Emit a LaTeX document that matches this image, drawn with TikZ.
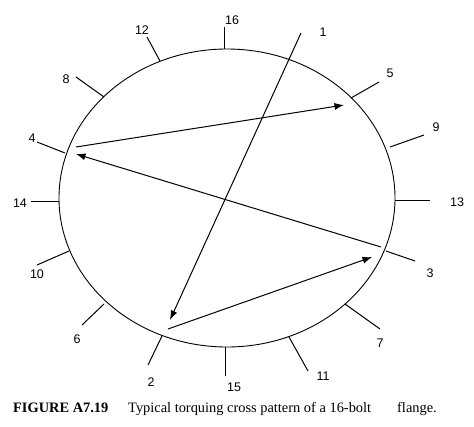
\documentclass[tikz,border=0pt]{standalone}
\usepackage{fontspec}
\setmainfont{Liberation Serif}
\newfontfamily\labfont{Liberation Sans}
\usetikzlibrary{arrows.meta}
\begin{document}
\begin{tikzpicture}[x=1pt,y=-1pt,
  tickline/.style={line width=1pt},
  arr/.style={line width=1pt,-{Latex[length=9.5pt,width=7pt]}},
  lab/.style={font=\labfont\fontsize{12.5}{14}\selectfont,inner sep=0pt},
  captext/.style={font=\fontsize{14.4}{16}\selectfont,inner sep=0pt,anchor=base west}]
\useasboundingbox (0,0) rectangle (474,426);
\draw[line width=0.9pt] (227,198) ellipse [x radius=168, y radius=149];
% tick end points (outer, inner)
\coordinate (o16) at (224,27);  \coordinate (i16) at (224,49);
\coordinate (o12) at (147,37);  \coordinate (i12) at (160,61);
\coordinate (o8)  at (76,77);   \coordinate (i8)  at (104,97);
\coordinate (o4)  at (37,142);  \coordinate (i4)  at (65,153);
\coordinate (o14) at (31,201);  \coordinate (i14) at (59,201);
\coordinate (o10) at (37,265);  \coordinate (i10) at (69,251);
\coordinate (o6)  at (82,325);  \coordinate (i6)  at (104,304);
\coordinate (o2)  at (148,365); \coordinate (i2)  at (162,336);
\coordinate (o15) at (225,376); \coordinate (i15) at (225,347);
\coordinate (o11) at (308,371); \coordinate (i11) at (289,337);
\coordinate (o7)  at (380,329); \coordinate (i7)  at (345,304);
\coordinate (o3)  at (415,261); \coordinate (i3)  at (386,251);
\coordinate (o13) at (430,200); \coordinate (i13) at (395,200);
\coordinate (o9)  at (424,135); \coordinate (i9)  at (390,147);
\coordinate (o5)  at (379,82);  \coordinate (i5)  at (351,98);
\foreach \n in {16,12,8,4,14,10,6,2,15,11,7,3,13,9,5}
  \draw[tickline] (o\n) -- (i\n);
% labels
\node[lab] (l16) at (232,20) {16};
\node[lab] (l1)  at (323,32) {1};
\node[lab] (l12) at (142,30) {12};
\node[lab] (l8)  at (66,79) {8};
\node[lab] (l4)  at (32,138) {4};
\node[lab] (l14) at (20,203) {14};
\node[lab] (l10) at (37,274) {10};
\node[lab] (l6)  at (77,339) {6};
\node[lab] (l2)  at (151,382) {2};
\node[lab] (l15) at (234,387) {15};
\node[lab] (l11) at (323,376) {11};
\node[lab] (l7)  at (380,343) {7};
\node[lab] (l3)  at (430,273) {3};
\node[lab] (l13) at (457,202) {13};
\node[lab] (l9)  at (436,127) {9};
\node[lab] (l5)  at (390,73) {5};
% arrow endpoints
\coordinate (s1) at (301,33);  \coordinate (e2) at (170,320);
\coordinate (s2) at (168,329); \coordinate (e3) at (372,257);
\coordinate (s3) at (381,247); \coordinate (e4) at (76,154);
\coordinate (s4) at (76,147);  \coordinate (e5) at (344,105);
\draw[arr] (s1) -- (e2);
\draw[arr] (s2) -- (e3);
\draw[arr] (s3) -- (e4);
\draw[arr] (s4) -- (e5);
% caption
\node[captext] (c1) at (13,412) {\bfseries FIGURE A7.19};
\node[captext] (c2) at (128,412) {Typical torquing cross pattern of a 16-bolt};
\node[captext] (c3) at (397,412) {flange.};
\end{tikzpicture}
\end{document}
